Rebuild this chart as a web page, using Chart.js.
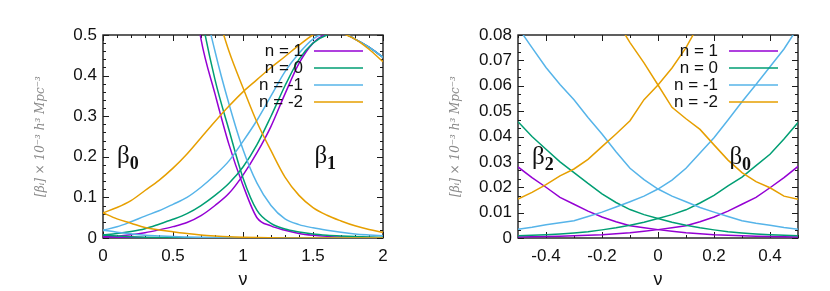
<!DOCTYPE html>
<html>
<head>
<meta charset="utf-8">
<script src="https://cdn.jsdelivr.net/npm/chart.js@4"></script>
<style>
  html, body { margin: 0; padding: 0; background: #fff; }
  .row { display: flex; width: 830px; height: 291px; }
  canvas { display: block; }
</style>
</head>
<body>
<div class="row">
  <canvas id="leftChart" width="415" height="291"></canvas>
  <canvas id="rightChart" width="415" height="291"></canvas>
</div>
<script>
// ── DATA ──
const legendLabels = ['n = 1', 'n = 0', 'n = -1', 'n = -2'];
const colors = ['#9400d3', '#009e73', '#56b4e9', '#e69f00'];

// left panel, nu = 0 .. 2
const nuLeft = [0, 0.1, 0.2, 0.3, 0.4, 0.5, 0.6, 0.7, 0.8, 0.9, 1.0,
                1.1, 1.2, 1.3, 1.4, 1.5, 1.6, 1.7, 1.8, 1.9, 2.0];
const leftTicksX = [0, 0.5, 1, 1.5, 2];
const leftTicksY = [0, 0.1, 0.2, 0.3, 0.4, 0.5];

const purpleRise = [0.003, 0.0045, 0.008, 0.013, 0.02, 0.028, 0.038, 0.055, 0.08, 0.11, 0.155,
                    0.21, 0.275, 0.355, 0.43, 0.48, 0.502, 0.505, 0.49, 0.47, 0.445];
const greenRise  = [0.0078, 0.011, 0.016, 0.023, 0.034, 0.046, 0.06, 0.08, 0.105, 0.135, 0.175,
                    0.23, 0.3, 0.375, 0.44, 0.48, 0.5, 0.505, 0.49, 0.47, 0.445];
const blueRise   = [0.0193, 0.0275, 0.04, 0.054, 0.067, 0.083, 0.1, 0.125, 0.155, 0.19, 0.238,
                    0.29, 0.35, 0.41, 0.455, 0.49, 0.505, 0.505, 0.49, 0.47, 0.445];
const orangeRise = [0.062, 0.075, 0.092, 0.117, 0.142, 0.172, 0.207, 0.247, 0.287, 0.325, 0.36,
                    0.39, 0.42, 0.447, 0.475, 0.5, 0.515, 0.505, 0.49, 0.465, 0.434];

const purpleFall = [null, null, null, null, null, null, 0.72, 0.49, 0.355, 0.23, 0.13,
                    0.05, 0.03, 0.019, 0.011, 0.0065, 0.004, 0.0025, 0.0015, 0.001, 0.0008];
const greenFall  = [null, null, null, null, null, null, 0.79, 0.555, 0.39, 0.266, 0.148,
                    0.068, 0.036, 0.022, 0.015, 0.01, 0.007, 0.005, 0.0035, 0.0025, 0.0018];
const blueFall   = [null, null, null, null, null, null, 0.9, 0.62, 0.46, 0.33, 0.218,
                    0.135, 0.08, 0.047, 0.033, 0.025, 0.019, 0.014, 0.01, 0.0075, 0.0055];
const orangeFall = [null, null, null, null, null, null, null, 0.68, 0.57, 0.46, 0.37,
                    0.285, 0.215, 0.15, 0.105, 0.075, 0.056, 0.042, 0.03, 0.021, 0.014];

const purpleTail = [0.0033, 0.0021, 0.0013, 0.0009, 0.0006, 0.0004, 0.0003, 0.0002, 0.0001, 0.0001, 0,
                    0, 0, 0, 0, 0, 0, 0, 0, 0, 0];
const greenTail  = [0.0077, 0.005, 0.0032, 0.002, 0.0013, 0.0009, 0.0006, 0.0004, 0.0003, 0.0002, 0.0001,
                    0, 0, 0, 0, 0, 0, 0, 0, 0, 0];
const blueTail   = [0.0193, 0.0143, 0.0102, 0.0068, 0.005, 0.0034, 0.0024, 0.0016, 0.001, 0.0007, 0.0005,
                    0.0003, 0.0002, 0.0001, 0, 0, 0, 0, 0, 0, 0];
const orangeTail = [0.062, 0.047, 0.0365, 0.0258, 0.0198, 0.0153, 0.011, 0.0075, 0.005, 0.003, 0.0018,
                    0.001, 0.0006, 0.0003, 0.0002, 0.0001, 0, 0, 0, 0, 0];

// right panel, nu = -0.5 .. 0.5
const nuRight = [-0.5, -0.45, -0.4, -0.35, -0.3, -0.25, -0.2, -0.15, -0.1, -0.05, 0,
                 0.05, 0.1, 0.15, 0.2, 0.25, 0.3, 0.35, 0.4, 0.45, 0.5];
const rightTicksX = [-0.4, -0.2, 0, 0.2, 0.4];
const rightTicksY = [0, 0.01, 0.02, 0.03, 0.04, 0.05, 0.06, 0.07, 0.08];

const purpleDown = [0.028, 0.0238, 0.02, 0.016, 0.0133, 0.0106, 0.0083, 0.0064, 0.0048, 0.004, 0.0033,
                    0.0027, 0.0021, 0.0017, 0.0013, 0.0011, 0.0009, 0.0007, 0.0006, 0.0005, 0.0004];
const purpleUp   = [0.0004, 0.0005, 0.0006, 0.0007, 0.0009, 0.0011, 0.0013, 0.0017, 0.0021, 0.0027, 0.0033,
                    0.004, 0.0048, 0.0064, 0.0083, 0.0106, 0.0133, 0.016, 0.0198, 0.0238, 0.0282];
const greenDown  = [0.0458, 0.04, 0.035, 0.03, 0.0258, 0.0215, 0.0174, 0.014, 0.0112, 0.0092, 0.0077,
                    0.0062, 0.005, 0.004, 0.0032, 0.0025, 0.002, 0.0016, 0.0013, 0.0011, 0.0009];
const greenUp    = [0.0009, 0.0011, 0.0013, 0.0016, 0.002, 0.0025, 0.0032, 0.004, 0.005, 0.0062, 0.0077,
                    0.0092, 0.0111, 0.0138, 0.0168, 0.0205, 0.024, 0.0285, 0.033, 0.039, 0.0455];
const blueDown   = [0.083, 0.075, 0.0672, 0.0605, 0.0545, 0.0475, 0.041, 0.034, 0.0275, 0.023, 0.0193,
                    0.0165, 0.0143, 0.012, 0.0102, 0.0085, 0.0068, 0.0058, 0.005, 0.0041, 0.0034];
const blueUp     = [0.0034, 0.0042, 0.0052, 0.006, 0.0068, 0.0085, 0.0102, 0.0122, 0.0143, 0.0165, 0.0193,
                    0.0228, 0.0275, 0.0335, 0.0395, 0.0465, 0.0537, 0.0605, 0.0675, 0.0745, 0.083];
const orangeUp   = [0.0153, 0.018, 0.021, 0.0245, 0.0272, 0.031, 0.036, 0.041, 0.0462, 0.0545, 0.0603,
                    0.067, 0.075, 0.085, 0.096, null, null, null, null, null, null];
const orangeDown = [null, null, null, null, null, null, 0.096, 0.086, 0.077, 0.069, 0.0603,
                    0.0515, 0.047, 0.0428, 0.0367, 0.0307, 0.0258, 0.0222, 0.0198, 0.0165, 0.0153];

// ── HELPERS ──
const tickFont = { family: 'Liberation Sans, Arial, sans-serif', size: 17 };
const yTitle = '[\u03b2\u1d62] \u00d7 10\u207b\u00b3 h\u00b3 Mpc\u207b\u00b3';
const fmt = v => String(Math.round(v * 1000) / 1000);

function series(nu, vals, n, smooth) {
    return {
        data: nu.map((x, i) => ({ x, y: vals[i] })),
        borderColor: colors[n],
        borderWidth: 1.5,
        pointRadius: 0,
        fill: false,
        order: n === 3 ? 0 : 4 - n,
        tension: 0,
        cubicInterpolationMode: smooth ? 'monotone' : 'default'
    };
}

// gnuplot style box with inward ticks on all four sides
const framePlugin = {
    id: 'frame',
    beforeDatasetsDraw(chart, args, opts) {
        const { ctx, chartArea: a, scales: { x, y } } = chart;
        ctx.save();
        ctx.strokeStyle = '#1c1c1c';
        ctx.lineWidth = 1.4;
        ctx.strokeRect(a.left, a.top, a.width, a.height);
        ctx.lineWidth = 1;
        const isMajor = (scale, v) => scale.ticks.some(t => Math.abs(t.value - v) < 1e-9);
        const nx = Math.round((x.max - x.min) / opts.xMinor);
        for (let i = 0; i <= nx; i++) {
            const v = x.min + i * opts.xMinor;
            const px = Math.round(x.getPixelForValue(v)) + 0.5;
            const len = isMajor(x, v) ? 6 : 3;
            ctx.beginPath();
            ctx.moveTo(px, a.bottom); ctx.lineTo(px, a.bottom - len);
            ctx.moveTo(px, a.top); ctx.lineTo(px, a.top + len);
            ctx.stroke();
        }
        const ny = Math.round((y.max - y.min) / opts.yMinor);
        for (let i = 0; i <= ny; i++) {
            const v = y.min + i * opts.yMinor;
            const py = Math.round(y.getPixelForValue(v)) + 0.5;
            const len = isMajor(y, v) ? 6 : 3;
            ctx.beginPath();
            ctx.moveTo(a.left, py); ctx.lineTo(a.left + len, py);
            ctx.moveTo(a.right, py); ctx.lineTo(a.right - len, py);
            ctx.stroke();
        }
        ctx.restore();
    }
};

// key inside the plot: text on the left, line sample on the right
const keyPlugin = {
    id: 'key',
    afterDatasetsDraw(chart) {
        const { ctx, chartArea: a } = chart;
        ctx.save();
        ctx.font = '17px Liberation Sans, Arial, sans-serif';
        ctx.textAlign = 'right';
        ctx.textBaseline = 'middle';
        legendLabels.forEach((label, i) => {
            const yy = a.top + 16 + i * 17;
            ctx.fillStyle = '#111';
            ctx.fillText(label, a.right - 80, yy);
            ctx.strokeStyle = colors[i];
            ctx.lineWidth = 1.5;
            ctx.beginPath();
            ctx.moveTo(a.right - 69, yy);
            ctx.lineTo(a.right - 20, yy);
            ctx.stroke();
        });
        ctx.restore();
    }
};

// beta labels, placed in data coordinates
const betaPlugin = {
    id: 'beta',
    afterDatasetsDraw(chart, args, opts) {
        const { ctx, scales: { x, y } } = chart;
        ctx.save();
        ctx.fillStyle = '#111';
        ctx.textBaseline = 'alphabetic';
        opts.items.forEach(([nu, val, sub]) => {
            const px = x.getPixelForValue(nu);
            const py = y.getPixelForValue(val);
            ctx.font = '25px Liberation Serif, serif';
            ctx.textAlign = 'left';
            ctx.fillText('\u03b2', px, py + 6);
            const w = ctx.measureText('\u03b2').width;
            ctx.font = 'bold 18px Liberation Serif, serif';
            ctx.fillText(sub, px + w, py + 12);
        });
        ctx.restore();
    }
};

function makeChart(id, datasets, xr, yr, betas) {
    return new Chart(document.getElementById(id).getContext('2d'), {
        type: 'line',
        data: { datasets },
        plugins: [framePlugin, keyPlugin, betaPlugin],
        options: {
            responsive: false,
            animation: false,
            layout: { padding: { top: 35, right: 32, left: 0, bottom: 0 } },
            scales: {
                x: {
                    type: 'linear',
                    min: xr.min, max: xr.max,
                    grid: { display: false, drawTicks: false },
                    border: { display: false },
                    afterBuildTicks: s => { s.ticks = xr.ticks.map(value => ({ value })); },
                    ticks: { padding: 8, color: '#111', font: tickFont, callback: fmt },
                    title: { display: true, text: '\u03bd', color: '#111',
                             font: { family: 'Liberation Sans, Arial, sans-serif', size: 18 },
                             padding: { top: 0, bottom: 0 } },
                    afterFit: s => { s.height = 53; }
                },
                y: {
                    min: yr.min, max: yr.max,
                    grid: { display: false, drawTicks: false },
                    border: { display: false },
                    afterBuildTicks: s => { s.ticks = yr.ticks.map(value => ({ value })); },
                    ticks: { padding: 6, color: '#111', font: tickFont, callback: fmt },
                    title: { display: true, text: yTitle, color: '#8a8a8a',
                             font: { family: 'DejaVu Serif, serif', size: 12, style: 'italic' },
                             padding: { top: 34, bottom: 0 } },
                    afterFit: s => { s.width = 103; }
                }
            },
            plugins: {
                legend: { display: false },
                tooltip: { enabled: false },
                frame: { xMinor: xr.minor, yMinor: yr.minor },
                beta: { items: betas }
            }
        }
    });
}

// ── LEFT PANEL ──
makeChart('leftChart', [
    series(nuLeft, purpleRise, 0, true), series(nuLeft, purpleFall, 0, true), series(nuLeft, purpleTail, 0, true),
    series(nuLeft, greenRise, 1, true),  series(nuLeft, greenFall, 1, true),  series(nuLeft, greenTail, 1, true),
    series(nuLeft, blueRise, 2, true),   series(nuLeft, blueFall, 2, true),   series(nuLeft, blueTail, 2, true),
    series(nuLeft, orangeRise, 3, true), series(nuLeft, orangeFall, 3, true), series(nuLeft, orangeTail, 3, true)
], { min: 0, max: 2, ticks: leftTicksX, minor: 0.1 },
   { min: 0, max: 0.5, ticks: leftTicksY, minor: 0.02 },
   [[0.1, 0.2, '0'], [1.51, 0.2, '1']]);

// ── RIGHT PANEL ──
makeChart('rightChart', [
    series(nuRight, purpleDown, 0, false), series(nuRight, purpleUp, 0, false),
    series(nuRight, greenDown, 1, false),  series(nuRight, greenUp, 1, false),
    series(nuRight, blueDown, 2, false),   series(nuRight, blueUp, 2, false),
    series(nuRight, orangeDown, 3, false), series(nuRight, orangeUp, 3, false)
], { min: -0.5, max: 0.5, ticks: rightTicksX, minor: 0.1 },
   { min: 0, max: 0.08, ticks: rightTicksY, minor: 0.01 / 3 },
   [[-0.45, 0.0315, '2'], [0.255, 0.0315, '0']]);
</script>
</body>
</html>
